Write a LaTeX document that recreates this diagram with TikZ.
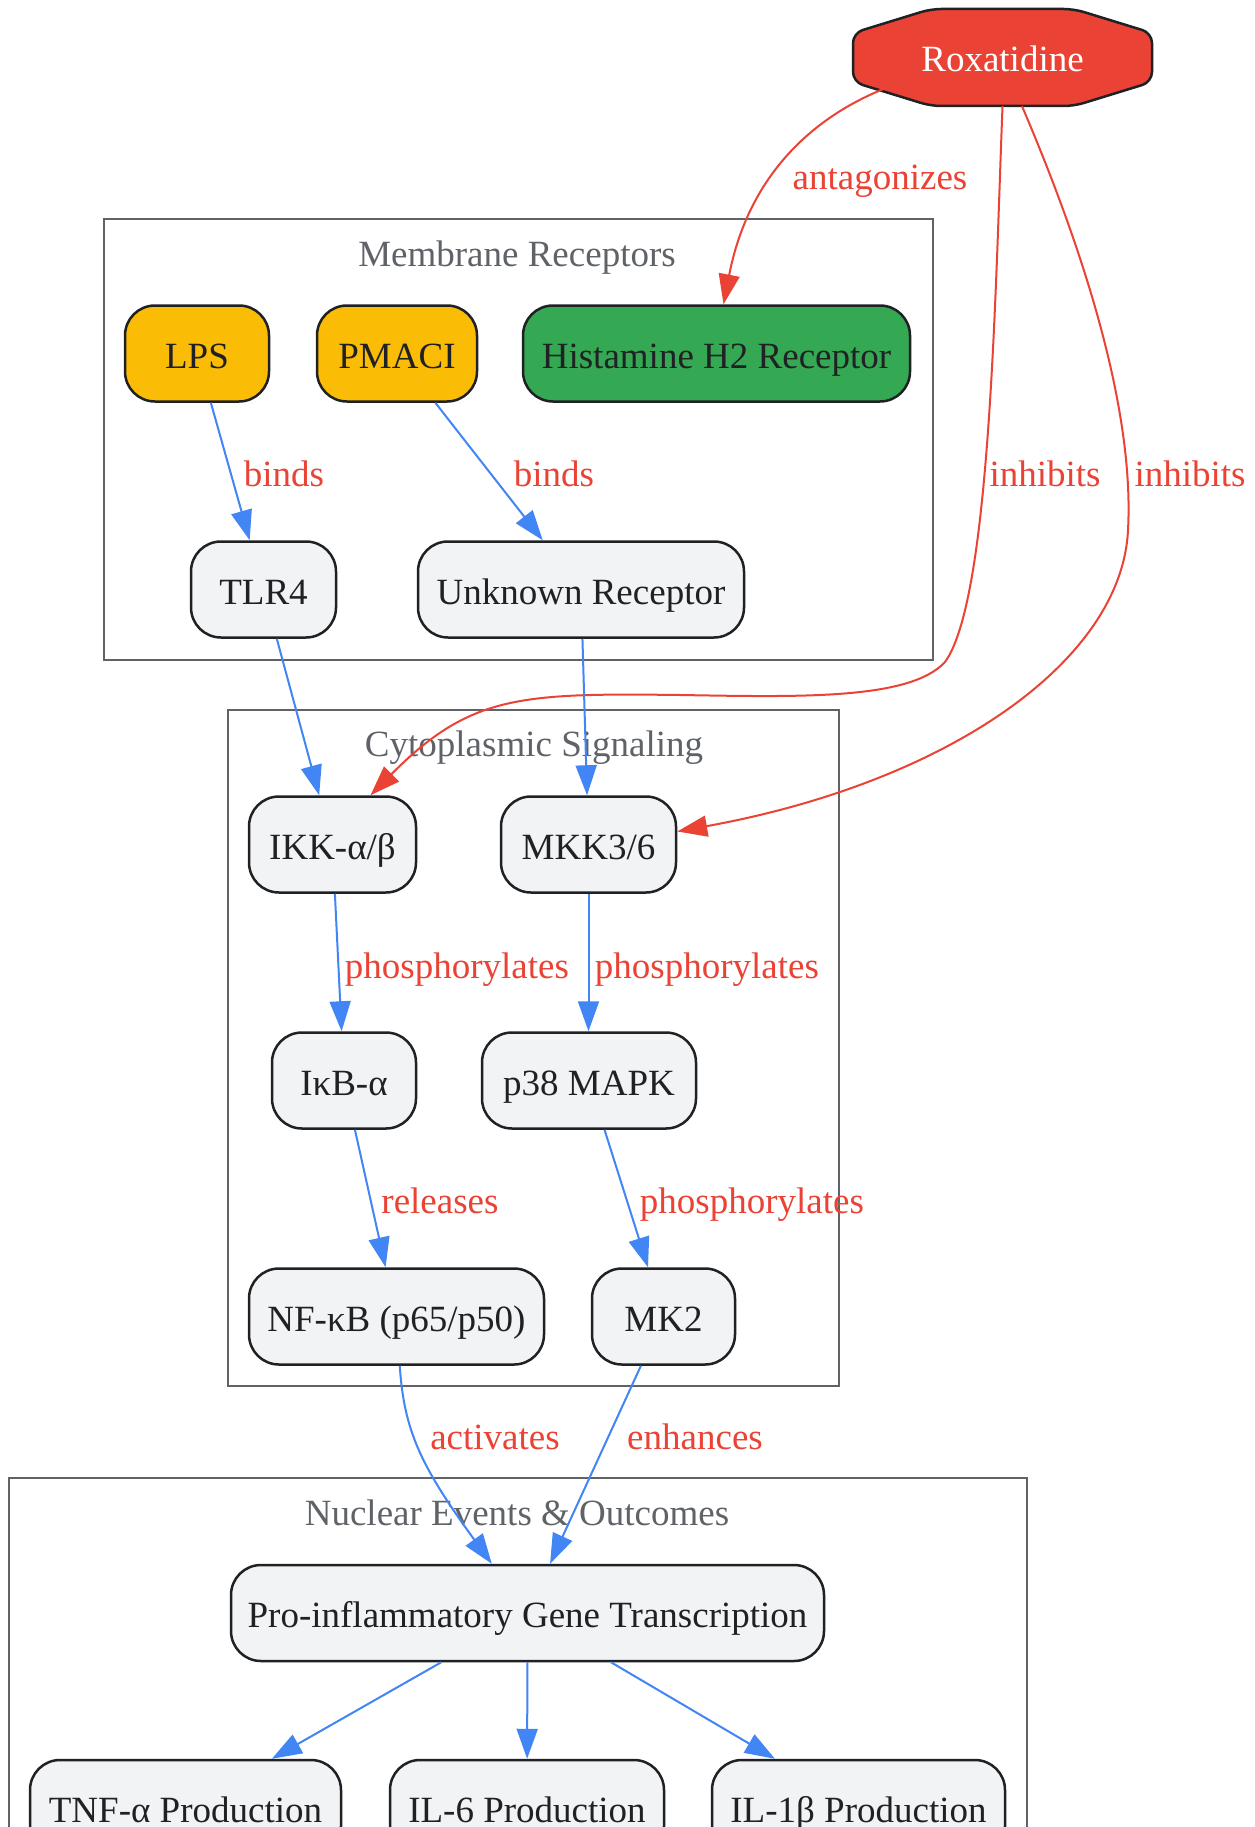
\documentclass[tikz,border=0pt]{standalone}
\usepackage{fontspec}
\setmainfont{Liberation Serif}
\usetikzlibrary{arrows.meta,calc}
\definecolor{nodefill}{HTML}{F1F3F4}
\definecolor{ink}{HTML}{202124}
\definecolor{gblue}{HTML}{4285F4}
\definecolor{gred}{HTML}{EA4335}
\definecolor{ggreen}{HTML}{34A853}
\definecolor{gyellow}{HTML}{FBBC05}
\definecolor{cgray}{HTML}{5F6368}
\begin{document}
\begin{tikzpicture}[x=1pt,y=-1pt,
  box/.style={draw=ink, line width=2.5pt, fill=nodefill, rounded corners=30pt,
    minimum height=96pt, inner sep=0pt, text=ink, text height=30pt, text depth=1pt,
    font=\fontsize{37}{44}\selectfont},
  lbl/.style={text=gred, inner sep=0pt, text height=27pt, text depth=1pt,
    font=\fontsize{37}{44}\selectfont},
  clus/.style={draw=cgray, line width=2pt},
  clab/.style={text=cgray, inner sep=0pt, text height=27pt, text depth=1pt,
    font=\fontsize{37}{44}\selectfont},
  blueedge/.style={draw=gblue, line width=2pt, -{Triangle[length=30pt,width=21pt]}},
  rededge/.style={draw=gred, line width=2pt, -{Triangle[length=30pt,width=21pt]}}
]
\useasboundingbox (0,0) rectangle (1254,1827);
\fill[white] (0,0) rectangle (1254,1827);

% clusters
\draw[clus] (104,219) rectangle (933,660);
\node[clab] (cmem) at (517,253) {Membrane Receptors};
\draw[clus] (228,710) rectangle (839,1386);
\node[clab] (ccyt) at (534,743) {Cytoplasmic Signaling};
\draw[clus] (9,1478) rectangle (1027,1900);
\node[clab] (cnuc) at (517,1512) {Nuclear Events \& Outcomes};

% Roxatidine
\filldraw[fill=gred, draw=ink, line width=2.5pt, rounded corners=10pt]
  (853,33) -- (931,9) -- (1074,9) -- (1152,33) -- (1152,82) -- (1074,106) -- (931,106) -- (853,82) -- cycle;
\node[minimum width=299pt, minimum height=97pt, inner sep=0pt, text=white,
  text height=30pt, text depth=1pt,
  font=\fontsize{37}{44}\selectfont] (rox) at (1002.5,57.5) {Roxatidine};

% nodes
\node[box, fill=gyellow, minimum width=144pt] (lps) at (197,353.5) {LPS};
\node[box, fill=gyellow, minimum width=160pt] (pmaci) at (397,353.5) {PMACI};
\node[box, fill=ggreen, minimum width=387pt] (h2) at (716.5,353.5) {Histamine H2 Receptor};
\node[box, minimum width=145pt] (tlr4) at (263.5,589.5) {TLR4};
\node[box, minimum width=326pt] (unk) at (581,589.5) {Unknown Receptor};
\node[box, minimum width=167pt] (ikk) at (332.5,844.5) {IKK-α/β};
\node[box, minimum width=175pt] (mkk) at (588.5,844.5) {MKK3/6};
\node[box, minimum width=144pt] (ikb) at (344,1080.5) {IκB-α};
\node[box, minimum width=214pt] (p38) at (589,1080.5) {p38 MAPK};
\node[box, minimum width=295pt] (nfkb) at (396.5,1316.5) {NF-κB (p65/p50)};
\node[box, minimum width=143pt] (mk2) at (663.5,1316.5) {MK2};
\node[box, minimum width=593pt] (pro) at (527.5,1613) {Pro-inflammatory Gene Transcription};
\node[box, minimum width=311pt] (tnf) at (185.5,1808) {TNF-α Production};
\node[box, minimum width=274pt] (il6) at (527,1808) {IL-6 Production};
\node[box, minimum width=293pt] (il1) at (858.5,1808) {IL-1β Production};

% red edges
\draw[rededge] ($(rox.center)+(-116.5,30.5)$) .. controls (810,118) and (748,178) .. ([xshift=7pt]h2.north);
\draw[rededge] (rox.south) .. controls (995,300) and (990,600) .. (945,662)
  .. controls (910,700) and (800,697) .. (680,695)
  .. controls (520,693) and (470,695) .. ([xshift=38pt]ikk.north);
\draw[rededge] ($(rox.south)+(19.5,0)$) .. controls (1075,230) and (1135,400) .. (1128,530)
  .. controls (1122,660) and (950,782) .. ([yshift=13pt]mkk.east);

% blue edges
\draw[blueedge] (lps) -- (tlr4);
\draw[blueedge] (pmaci) -- (unk);
\draw[blueedge] (tlr4) -- (ikk);
\draw[blueedge] (unk) -- (mkk);
\draw[blueedge] (ikk) -- (ikb);
\draw[blueedge] (mkk) -- (mkk |- p38.north);
\draw[blueedge] (ikb) -- (nfkb);
\draw[blueedge] (p38) -- (mk2);
\draw[blueedge] (nfkb) .. controls (404,1430) and (420,1465) .. (pro);
\draw[blueedge] (mk2) -- (pro);
\draw[blueedge] (pro) -- (tnf);
\draw[blueedge] (pro) -- (il6);
\draw[blueedge] (pro) -- (il1);

% edge labels
\node[lbl] (l1) at (880,177) {antagonizes};
\node[lbl] (l2) at (284,473) {binds};
\node[lbl] (l3) at (554,473) {binds};
\node[lbl] (l4) at (1045,473) {inhibits};
\node[lbl] (l5) at (1190,473) {inhibits};
\node[lbl] (l6) at (457,965) {phosphorylates};
\node[lbl] (l7) at (707,965) {phosphorylates};
\node[lbl] (l8) at (440,1200) {releases};
\node[lbl] (l9) at (752,1200) {phosphorylates};
\node[lbl] (l10) at (495,1436) {activates};
\node[lbl] (l11) at (695,1436) {enhances};
\end{tikzpicture}
\end{document}
